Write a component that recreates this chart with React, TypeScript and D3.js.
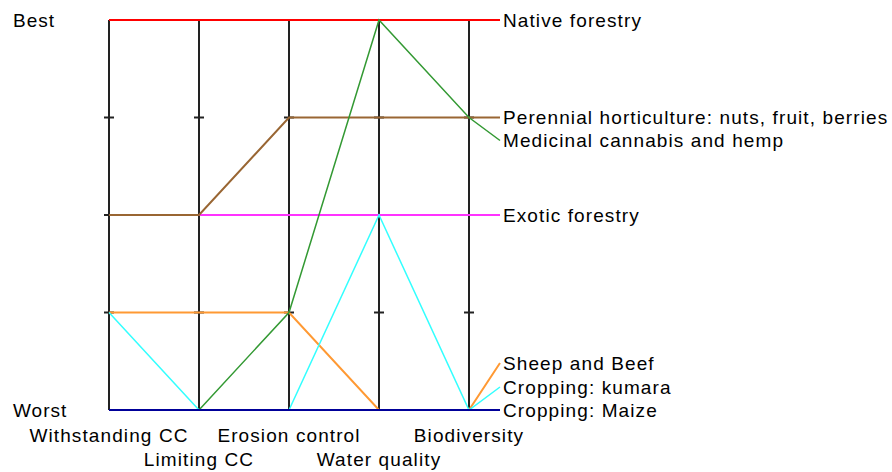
import React from 'react';
import * as d3 from 'd3';

const criteria = ['Withstanding CC', 'Limiting CC', 'Erosion control', 'Water quality', 'Biodiversity'];
const levels = [0, 1, 2, 3, 4];

// scores: 0 = worst, 4 = best
const seriesNames = [
  'Exotic forestry',
  'Perennial horticulture: nuts, fruit, berries',
  'Native forestry',
  'Sheep and Beef',
  'Cropping: kumara',
  'Medicinal cannabis and hemp',
  'Cropping: Maize',
];
const seriesScores = [
  [2, 2, 2, 2, 2],
  [2, 2, 3, 3, 3],
  [4, 4, 4, 4, 4],
  [1, 1, 1, 0, 0],
  [1, 0, 0, 2, 0],
  [0, 0, 1, 4, 3],
  [0, 0, 0, 0, 0],
];
const seriesColors = ['#ff33ff', '#996633', '#ff0000', '#ff9933', '#33ffff', '#339933', '#000099'];
// label nudge in pixels so labels don't overlap
const labelNudge = [0, 0, 0, -47, -23, 23, 0];

const W = 892, H = 472;
const font = '"Liberation Sans", Arial, sans-serif';

export default function App() {
  const x = d3.scalePoint<string>().domain(criteria).range([109, 469]);
  const y = d3.scaleLinear().domain([0, 4]).range([410, 20]);
  const line = d3.line<[number, number]>().x(d => d[0]).y(d => d[1]);
  const labelX = 500;

  return (
    <svg width={W} height={H} style={{ position: 'absolute', left: 0, top: 0, background: '#fff' }}>
      {criteria.map(c => (
        <g key={c}>
          <line x1={x(c)} x2={x(c)} y1={y(4)} y2={y(0)} stroke="#222" strokeWidth={2} />
          {levels.slice(1, 4).map(l => (
            <line key={l} x1={x(c)! - 5} x2={x(c)! + 5} y1={y(l)} y2={y(l)} stroke="#222" strokeWidth={2} />
          ))}
        </g>
      ))}
      {seriesNames.map((name, i) => {
        const pts: [number, number][] = criteria.map((c, j) => [x(c)!, y(seriesScores[i][j])]);
        const last = pts[pts.length - 1];
        pts.push([labelX, last[1] + labelNudge[i]]);
        return (
          <path key={name} d={line(pts)!} fill="none" stroke={seriesColors[i]}
            strokeWidth={i === 4 || i === 5 ? 1.5 : 2} />
        );
      })}
      {seriesNames.map((name, i) => {
        const ly = y(seriesScores[i][4]) + labelNudge[i];
        return (
          <text key={name} x={labelX + 3} y={ly} dy="0.35em" fontFamily={font} fontSize={19}
            letterSpacing={1.1} fill="#000">{name}</text>
        );
      })}
      <text x={13} y={y(4)} dy="0.35em" fontFamily={font} fontSize={19} letterSpacing={1} fill="#000">Best</text>
      <text x={13} y={y(0)} dy="0.35em" fontFamily={font} fontSize={19} letterSpacing={1} fill="#000">Worst</text>
      {criteria.map((c, j) => (
        <text key={c} x={x(c)} y={j % 2 === 0 ? 435 : 459} dy="0.35em" textAnchor="middle"
          fontFamily={font} fontSize={19} letterSpacing={1.1} fill="#000">{c}</text>
      ))}
    </svg>
  );
}
